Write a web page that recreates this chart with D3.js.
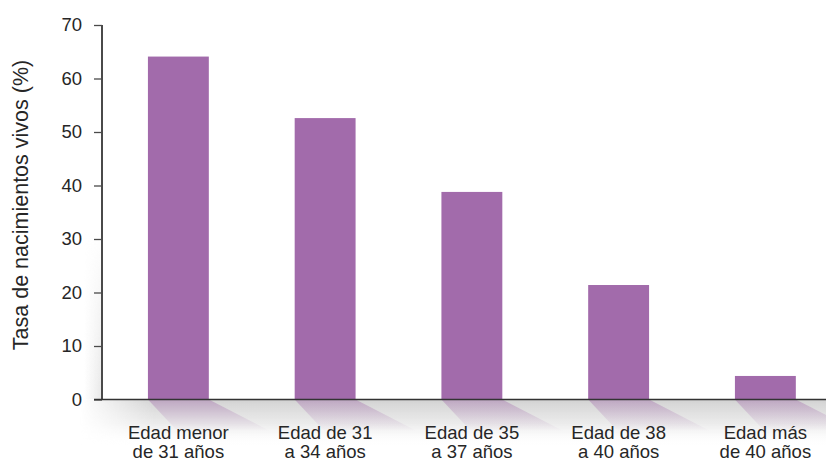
<!DOCTYPE html>
<html>
<head>
<meta charset="utf-8">
<script src="https://cdn.jsdelivr.net/npm/d3@7"></script>
<style>
  html, body { margin: 0; padding: 0; background: #fff; }
  svg { display: block; }
  text { font-family: "Liberation Sans", Arial, sans-serif; fill: #262626; }
</style>
</head>
<body>
<svg id="chart" width="826" height="461"></svg>
<script>
// Live birth rate by age group
const categories = [
  ["Edad menor", "de 31 años"],
  ["Edad de 31", "a 34 años"],
  ["Edad de 35", "a 37 años"],
  ["Edad de 38", "a 40 años"],
  ["Edad más", "de 40 años"]
];
const rates = [64.1, 52.6, 38.8, 21.4, 4.4];
const yTicks = [0, 10, 20, 30, 40, 50, 60, 70];
const yTitle = "Tasa de nacimientos vivos (%)";

const W = 826, H = 461;
const axisX = 102, baseY = 399.5, topY = 25;
const barColor = "#a26bab";

const svg = d3.select("#chart");
const defs = svg.append("defs");

const x = d3.scaleBand()
  .domain(d3.range(categories.length))
  .range([105, 838.75])
  .paddingInner(0.585)
  .paddingOuter(0.2925);

const y = d3.scaleLinear().domain([0, 70]).range([baseY, topY]);

// floor shading under the baseline
const floorGrad = defs.append("linearGradient").attr("id", "floorV")
  .attr("x1", 0).attr("y1", 0).attr("x2", 0).attr("y2", 1);
floorGrad.append("stop").attr("offset", 0).attr("stop-color", "#d2d2d2").attr("stop-opacity", 1);
floorGrad.append("stop").attr("offset", 0.5).attr("stop-color", "#e6e6e6").attr("stop-opacity", 0.8);
floorGrad.append("stop").attr("offset", 1).attr("stop-color", "#ffffff").attr("stop-opacity", 0);

const floorMask = defs.append("linearGradient").attr("id", "floorH")
  .attr("x1", 0).attr("y1", 0).attr("x2", 1).attr("y2", 0);
floorMask.append("stop").attr("offset", 0).attr("stop-color", "#fff").attr("stop-opacity", 0);
floorMask.append("stop").attr("offset", 0.1).attr("stop-color", "#fff").attr("stop-opacity", 1);
floorMask.append("stop").attr("offset", 1).attr("stop-color", "#fff").attr("stop-opacity", 1);
defs.append("mask").attr("id", "floorFade")
  .append("rect").attr("x", 80).attr("y", baseY).attr("width", W - 80).attr("height", 48)
  .attr("fill", "url(#floorH)");

svg.append("rect")
  .attr("x", 80).attr("y", baseY).attr("width", W - 80).attr("height", 48)
  .attr("fill", "url(#floorV)")
  .attr("mask", "url(#floorFade)");

// soft wall shading left of the vertical axis
const wallGrad = defs.append("linearGradient").attr("id", "wallH")
  .attr("x1", 0).attr("y1", 0).attr("x2", 1).attr("y2", 0);
wallGrad.append("stop").attr("offset", 0).attr("stop-color", "#e8e8e8").attr("stop-opacity", 0);
wallGrad.append("stop").attr("offset", 1).attr("stop-color", "#e4e4e4").attr("stop-opacity", 0.9);
const wallV = defs.append("linearGradient").attr("id", "wallV")
  .attr("x1", 0).attr("y1", 0).attr("x2", 0).attr("y2", 1);
wallV.append("stop").attr("offset", 0).attr("stop-color", "#fff").attr("stop-opacity", 0);
wallV.append("stop").attr("offset", 1).attr("stop-color", "#fff").attr("stop-opacity", 1);
defs.append("mask").attr("id", "wallFade")
  .append("rect").attr("x", 84).attr("y", 230).attr("width", 18).attr("height", baseY - 230)
  .attr("fill", "url(#wallV)");
svg.append("rect")
  .attr("x", 84).attr("y", 230).attr("width", 18).attr("height", baseY - 230)
  .attr("fill", "url(#wallH)")
  .attr("mask", "url(#wallFade)");

// bar reflections cast onto the floor
const shadowGrad = defs.append("linearGradient").attr("id", "shadowV")
  .attr("x1", 0).attr("y1", 0).attr("x2", 0).attr("y2", 1);
shadowGrad.append("stop").attr("offset", 0).attr("stop-color", barColor).attr("stop-opacity", 0.42);
shadowGrad.append("stop").attr("offset", 0.6).attr("stop-color", barColor).attr("stop-opacity", 0.15);
shadowGrad.append("stop").attr("offset", 1).attr("stop-color", barColor).attr("stop-opacity", 0);

svg.append("g").selectAll("path")
  .data(rates)
  .join("path")
  .attr("d", (d, i) => {
    const x0 = x(i), x1 = x(i) + x.bandwidth();
    const depth = 32;
    return `M${x0},${baseY} L${x1},${baseY} L${x1 + 62},${baseY + depth} L${x0 + 30},${baseY + depth} Z`;
  })
  .attr("fill", "url(#shadowV)");

// bars
svg.append("g").selectAll("rect")
  .data(rates)
  .join("rect")
  .attr("x", (d, i) => x(i))
  .attr("width", x.bandwidth())
  .attr("y", d => y(d))
  .attr("height", d => y(0) - y(d))
  .attr("fill", barColor);

// y axis
const yAxis = d3.axisLeft(y).tickValues(yTicks).tickSize(8).tickPadding(12);
const gy = svg.append("g").attr("transform", `translate(${axisX},0)`).call(yAxis);
gy.select(".domain").remove();
gy.selectAll(".tick line").attr("stroke", "#4a4a4a").attr("stroke-width", 1.3);
gy.selectAll(".tick text")
  .attr("font-family", "'Liberation Sans', Arial, sans-serif")
  .attr("font-size", 18.5)
  .attr("fill", "#262626");
svg.append("line")
  .attr("x1", axisX).attr("x2", axisX)
  .attr("y1", y(70)).attr("y2", baseY)
  .attr("stroke", "#4a4a4a").attr("stroke-width", 2);

// x axis baseline
svg.append("line")
  .attr("x1", 94).attr("x2", W)
  .attr("y1", baseY).attr("y2", baseY)
  .attr("stroke", "#333").attr("stroke-width", 1.6);

// category labels
const xl = svg.append("g").selectAll("text")
  .data(categories)
  .join("text")
  .attr("text-anchor", "middle")
  .attr("font-size", 18.5)
  .attr("x", (d, i) => x(i) + x.bandwidth() / 2)
  .attr("y", 439);
xl.selectAll("tspan")
  .data(d => d)
  .join("tspan")
  .attr("x", function () { return d3.select(this.parentNode).attr("x"); })
  .attr("dy", (d, j) => j === 0 ? 0 : 19)
  .text(d => d);

// y axis title
svg.append("text")
  .attr("transform", `translate(28,${205}) rotate(-90)`)
  .attr("text-anchor", "middle")
  .attr("font-size", 21.5)
  .text(yTitle);
</script>
</body>
</html>
